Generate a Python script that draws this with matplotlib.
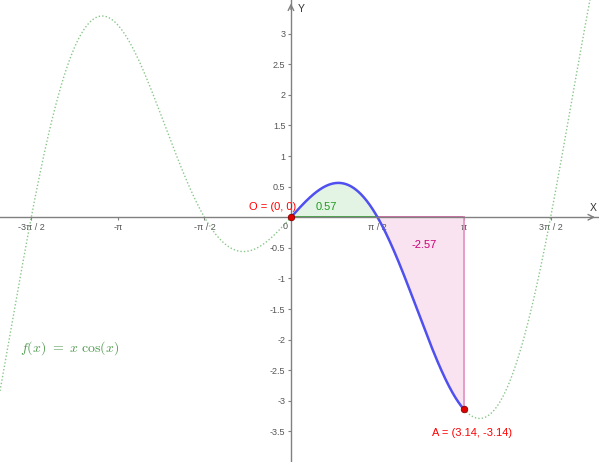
import numpy as np
import matplotlib
matplotlib.use("Agg")
import matplotlib.pyplot as plt

plt.rcParams['font.family'] = ['Liberation Sans', 'DejaVu Sans']
plt.rcParams['mathtext.fontset'] = 'cm'

# view window (data units)
x_min, x_max = -5.28, 5.59
y_min, y_max = -4.0, 3.55

# tick values and labels
x_ticks = [-3 * np.pi / 2, -np.pi, -np.pi / 2, np.pi / 2, np.pi, 3 * np.pi / 2]
x_tick_labels = ["-3π / 2", "-π", "-π / 2", "π / 2", "π", "3π / 2"]
y_ticks = [-3.5, -3, -2.5, -2, -1.5, -1, -0.5, 0.5, 1, 1.5, 2, 2.5, 3]
y_tick_labels = ["-3.5", "-3", "-2.5", "-2", "-1.5", "-1", "-0.5",
                 "0.5", "1", "1.5", "2", "2.5", "3"]

# points and integral pieces
point_names = ["O", "A"]
point_x = [0.0, np.pi]
point_y = [0.0, -np.pi]
area_bounds = [(0.0, np.pi / 2), (np.pi / 2, np.pi)]
area_values = [0.57, -2.57]
area_label_pos = [(0.65, 0.16), (2.41, -0.46)]


def f(x):
    return x * np.cos(x)


fig = plt.figure(figsize=(5.99, 4.62), dpi=100)
ax = fig.add_axes([0, 0, 1, 1])
ax.set_xlim(x_min, x_max)
ax.set_ylim(y_min, y_max)

axis_col = "#808080"
for side in ["top", "right"]:
    ax.spines[side].set_visible(False)
ax.spines["left"].set_position("zero")
ax.spines["bottom"].set_position("zero")
ax.spines["left"].set_color(axis_col)
ax.spines["bottom"].set_color(axis_col)
ax.spines["left"].set_linewidth(1.0)
ax.spines["bottom"].set_linewidth(1.0)

ax.set_xticks(x_ticks)
ax.set_xticklabels(x_tick_labels)
ax.set_yticks(y_ticks)
ax.set_yticklabels(y_tick_labels)
ax.tick_params(axis="both", colors=axis_col, labelcolor="#555555",
               labelsize=6.5, length=2, width=0.8, direction="out")
ax.tick_params(axis="x", pad=2)
ax.tick_params(axis="y", pad=2)
ax.text(-0.06, -0.08, "0", fontsize=6.5, color="#555555", ha="right", va="top")

# axis arrows + names
ax.annotate("", xy=(x_max - 0.02, 0), xytext=(x_max - 0.2, 0),
            arrowprops=dict(arrowstyle="->", color=axis_col, lw=1.0))
ax.annotate("", xy=(0, y_max - 0.01), xytext=(0, y_max - 0.2),
            arrowprops=dict(arrowstyle="->", color=axis_col, lw=1.0))
ax.text(x_max - 0.1, 0.07, "X", fontsize=7.5, color="#333333", ha="center", va="bottom")
ax.text(0.12, y_max - 0.14, "Y", fontsize=7.5, color="#333333", ha="left", va="center")

# whole function, dotted
xs = np.linspace(x_min, x_max, 800)
ax.plot(xs, f(xs), color="#6cb86c", lw=1.0, ls=(0, (1, 1.5)), alpha=0.8)

# integral regions
g_lo, g_hi = area_bounds[0]
xg = np.linspace(g_lo, g_hi, 200)
ax.fill_between(xg, f(xg), 0, color="#e4f4e4", lw=0)
ax.plot([g_lo, g_hi], [0, 0], color="#2e9a2e", lw=1.2)

p_lo, p_hi = area_bounds[1]
xp = np.linspace(p_lo, p_hi, 200)
ax.fill_between(xp, f(xp), 0, color="#f9e3f0", lw=0)
ax.plot([p_lo, p_hi], [0, 0], color="#d0559a", lw=1.2)
ax.plot([p_hi, p_hi], [0, f(p_hi)], color="#e48fbe", lw=1.2)

ax.text(*area_label_pos[0], f"{area_values[0]:.2f}", color="#1f9a1f",
        fontsize=8, ha="center", va="center")
ax.text(*area_label_pos[1], f"{area_values[1]:.2f}", color="#cc0077",
        fontsize=8, ha="center", va="center")

# blue piece between the points
xb = np.linspace(point_x[0], point_x[1], 300)
ax.plot(xb, f(xb), color="#5050f0", lw=1.8)

# points
ax.scatter(point_x, point_y, s=22, color="#e00000", edgecolor="#8b0000",
           linewidth=0.6, zorder=5)
ax.text(point_x[0] - 0.33, point_y[0] + 0.17,
        f"{point_names[0]} = ({point_x[0]:.0f}, {point_y[0]:.0f})",
        color="#ff0000", fontsize=8, ha="center", va="center")
ax.text(point_x[1] + 0.14, point_y[1] - 0.39,
        f"{point_names[1]} = ({point_x[1]:.2f}, {point_y[1]:.2f})",
        color="#ff0000", fontsize=8, ha="center", va="center")

# function name
ax.text(-4.92, -2.14, r"$f(x)\ =\ x\ \cos(x)$", color="#4e9a4e",
        fontsize=10, ha="left", va="center")

fig.savefig("out.png", dpi=100)
